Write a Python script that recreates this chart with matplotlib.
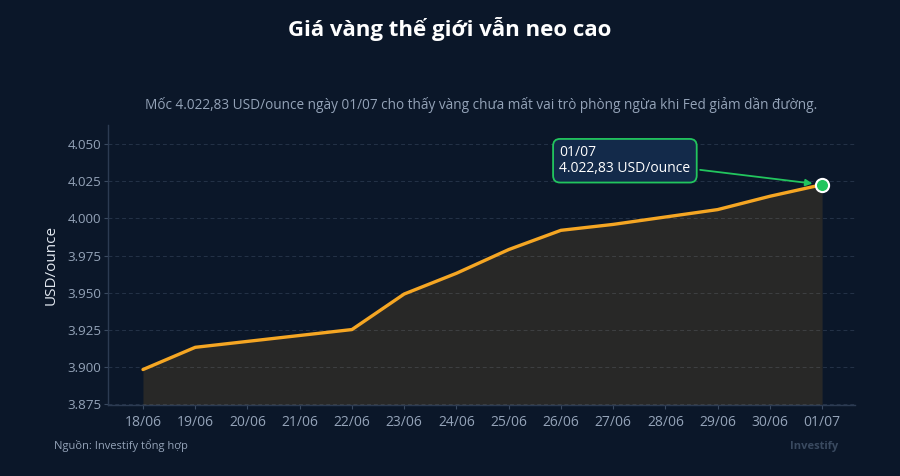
import matplotlib
matplotlib.use("Agg")
import matplotlib.pyplot as plt
from matplotlib.ticker import FuncFormatter

plt.rcParams['font.family'] = ['Open Sans', 'Noto Sans', 'DejaVu Sans']

# dữ liệu
dates = ["18/06", "19/06", "20/06", "21/06", "22/06", "23/06", "24/06",
         "25/06", "26/06", "27/06", "28/06", "29/06", "30/06", "01/07"]
prices = [3898, 3913, 3917, 3921, 3925, 3949, 3963,
          3979, 3992, 3996, 4001, 4006, 4015, 4022.83]
y_ticks = [3875, 3900, 3925, 3950, 3975, 4000, 4025, 4050]

BG = '#0b1729'
GOLD = '#f5a623'
GREEN = '#22c55e'
GRID = '#243247'
TICK = '#94a3b8'

fig = plt.figure(figsize=(9, 4.76), dpi=100, facecolor=BG)
ax = fig.add_axes([0.12, 0.149, 0.83, 0.588])
ax.set_facecolor(BG)

x = list(range(len(dates)))
ax.fill_between(x, prices, 3800, color='#f0a020', alpha=0.13, linewidth=0)
ax.plot(x, prices, color=GOLD, linewidth=2.4, solid_capstyle='round', zorder=3)
ax.scatter([x[-1]], [prices[-1]], s=90, color=GREEN, edgecolor='white',
           linewidth=1.5, zorder=5)

ax.set_xlim(-0.67, 13.63)
ax.set_ylim(3874, 4063)
ax.set_xticks(x)
ax.set_xticklabels(dates)
ax.set_yticks(y_ticks)
ax.yaxis.set_major_formatter(FuncFormatter(lambda v, p: f"{v:,.0f}".replace(",", ".")))
ax.tick_params(axis='x', colors='#3a4a60', labelcolor=TICK, labelsize=10,
               length=3, width=0.8, pad=4)
ax.tick_params(axis='y', colors='#3a4a60', labelcolor=TICK, labelsize=9.6,
               length=3, width=0.8, pad=2)
ax.grid(axis='y', color=GRID, linestyle=(0, (4, 3)), linewidth=0.7)
ax.set_axisbelow(True)
for s in ['top', 'right']:
    ax.spines[s].set_visible(False)
for s in ['left', 'bottom']:
    ax.spines[s].set_color('#2c3b52')
    ax.spines[s].set_linewidth(1.0)
ax.set_ylabel("USD/ounce", color='#e2e8f0', fontsize=11, labelpad=6)

# chú thích điểm cuối
last = f"{prices[-1]:,.2f}".replace(",", "X").replace(".", ",").replace("X", ".")
ax.annotate(f"{dates[-1]}\n{last} USD/ounce",
            xy=(x[-1], prices[-1]), xytext=(7.97, 4039),
            color='white', fontsize=10, va='center', ha='left',
            linespacing=1.1,
            bbox=dict(boxstyle='round,pad=0.45,rounding_size=0.5',
                      fc='#132a4a', ec=GREEN, lw=1.3),
            arrowprops=dict(arrowstyle='-|>', color=GREEN, lw=1.3,
                            shrinkA=2, shrinkB=7, mutation_scale=10),
            zorder=6)

fig.text(0.5, 0.94, "Giá vàng thế giới vẫn neo cao", ha='center', va='center',
         color='white', fontsize=16, fontweight='bold')
fig.text(0.535, 0.779, "Mốc 4.022,83 USD/ounce ngày 01/07 cho thấy vàng chưa mất vai trò "
         "phòng ngừa khi Fed giảm dần đường.", ha='center', va='center',
         color=TICK, fontsize=9.8)
fig.text(0.06, 0.063, "Nguồn: Investify tổng hợp", ha='left', va='center',
         color=TICK, fontsize=8)
fig.text(0.931, 0.063, "Investify", ha='right', va='center',
         color='#3a4a60', fontsize=8, fontweight='bold')

fig.savefig("out.png", dpi=100, facecolor=BG)
